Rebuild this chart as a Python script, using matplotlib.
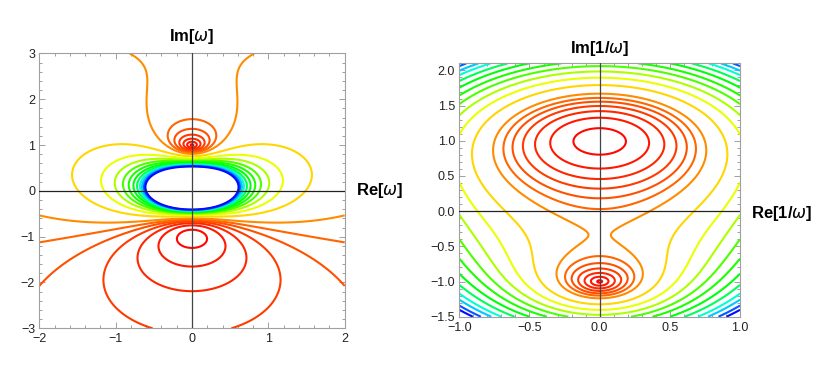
import numpy as np
import matplotlib.pyplot as plt
from matplotlib.colors import hsv_to_rgb
from matplotlib.ticker import MultipleLocator, FuncFormatter

zeros = [1j, -1j]
orders = [2, 1]

# contour levels (estimated from where the lines cross the axes/edges)
levels = [0.07, 0.25, 0.43, 0.61, 0.79, 0.97, 1.198,
          1.75, 2.33, 2.9, 3.45, 4.0, 4.6, 5.2, 5.8, 6.3, 6.85, 7.3]

left_xlim = (-2, 2)
left_ylim = (-3, 3)
right_xlim = (-1, 1)
right_ylim = (-1.5, 2.1)

# level -> hue, red at the zeros, blue at the top level
hue_at = [0.0, 0.5, 1.0, 1.2, 1.75, 2.9, 3.6, 4.6, 5.3, 6.0, 6.5, 7.0, 7.3]
hue_val = [0.0, 0.03, 0.068, 0.092, 0.14, 0.22, 0.30, 0.34, 0.40, 0.50,
           0.56, 0.63, 0.66]


def field(z):
    out = np.ones(z.shape)
    for z0, n in zip(zeros, orders):
        out = out * np.abs(z - z0) ** n
    return out


colors = [hsv_to_rgb((np.interp(v, hue_at, hue_val), 1, 1)) for v in levels]


def minus(fmt):
    return FuncFormatter(lambda v, p: fmt.format(v).replace('-', '\u2212'))


def style(ax, major, minor, fmt):
    for s in ax.spines.values():
        s.set_color('#a0a0a0')
        s.set_linewidth(0.8)
    ax.xaxis.set_major_locator(MultipleLocator(major))
    ax.xaxis.set_minor_locator(MultipleLocator(minor))
    ax.yaxis.set_major_locator(MultipleLocator(major))
    ax.yaxis.set_minor_locator(MultipleLocator(minor))
    ax.xaxis.set_major_formatter(minus(fmt))
    ax.yaxis.set_major_formatter(minus(fmt))
    ax.tick_params(which='both', direction='in', top=True, right=True,
                   color='#a0a0a0', width=0.7, labelsize=9,
                   labelcolor='#222222')
    ax.tick_params(axis='x', pad=3.5)
    ax.tick_params(axis='y', pad=3)
    ax.tick_params(which='major', length=4)
    ax.tick_params(which='minor', length=2.2)
    ax.axhline(0, color='#222222', lw=0.9, zorder=3)
    ax.axvline(0, color='#444444', lw=0.9, zorder=3)


plt.rcParams['font.family'] = ['Liberation Sans', 'DejaVu Sans']
plt.rcParams['mathtext.fontset'] = 'dejavusans'

fig = plt.figure(figsize=(8.3, 3.73), dpi=100)

# left: omega plane
ax1 = fig.add_axes([0.0473, 0.1198, 0.368, 0.737])
x = np.linspace(*left_xlim, 1000)
y = np.linspace(*left_ylim, 1500)
X, Y = np.meshgrid(x, y)
with np.errstate(divide='ignore', invalid='ignore'):
    F = field(1 / (X + 1j * Y))
F = np.nan_to_num(F, nan=1e6, posinf=1e6)
ax1.contour(X, Y, F, levels=levels, colors=colors, linewidths=1.5)
ax1.set_xlim(left_xlim)
ax1.set_ylim(left_ylim)
style(ax1, 1, 0.2, '{:.0f}')
fig.text(192 / 830, 1 - 36 / 373, r'Im[$\omega$]', ha='center', va='center',
         fontsize=12, fontweight='bold')
fig.text(356 / 830, 1 - 191 / 373, r'Re[$\omega$]', ha='left', va='center',
         fontsize=12, fontweight='bold')

# right: 1/omega plane
ax2 = fig.add_axes([0.5534, 0.151, 0.3382, 0.679])
x = np.linspace(*right_xlim, 800)
y = np.linspace(*right_ylim, 1200)
X, Y = np.meshgrid(x, y)
F = field(X + 1j * Y)
ax2.contour(X, Y, F, levels=levels, colors=colors, linewidths=1.5)
ax2.set_xlim(right_xlim)
ax2.set_ylim(right_ylim)
style(ax2, 0.5, 0.1, '{:.1f}')
fig.text(600 / 830, 1 - 48 / 373, r'Im[1/$\omega$]', ha='center', va='center',
         fontsize=12, fontweight='bold')
fig.text(751 / 830, 1 - 213 / 373, r'Re[1/$\omega$]', ha='left', va='center',
         fontsize=12, fontweight='bold')

fig.savefig('out.png', dpi=100)
